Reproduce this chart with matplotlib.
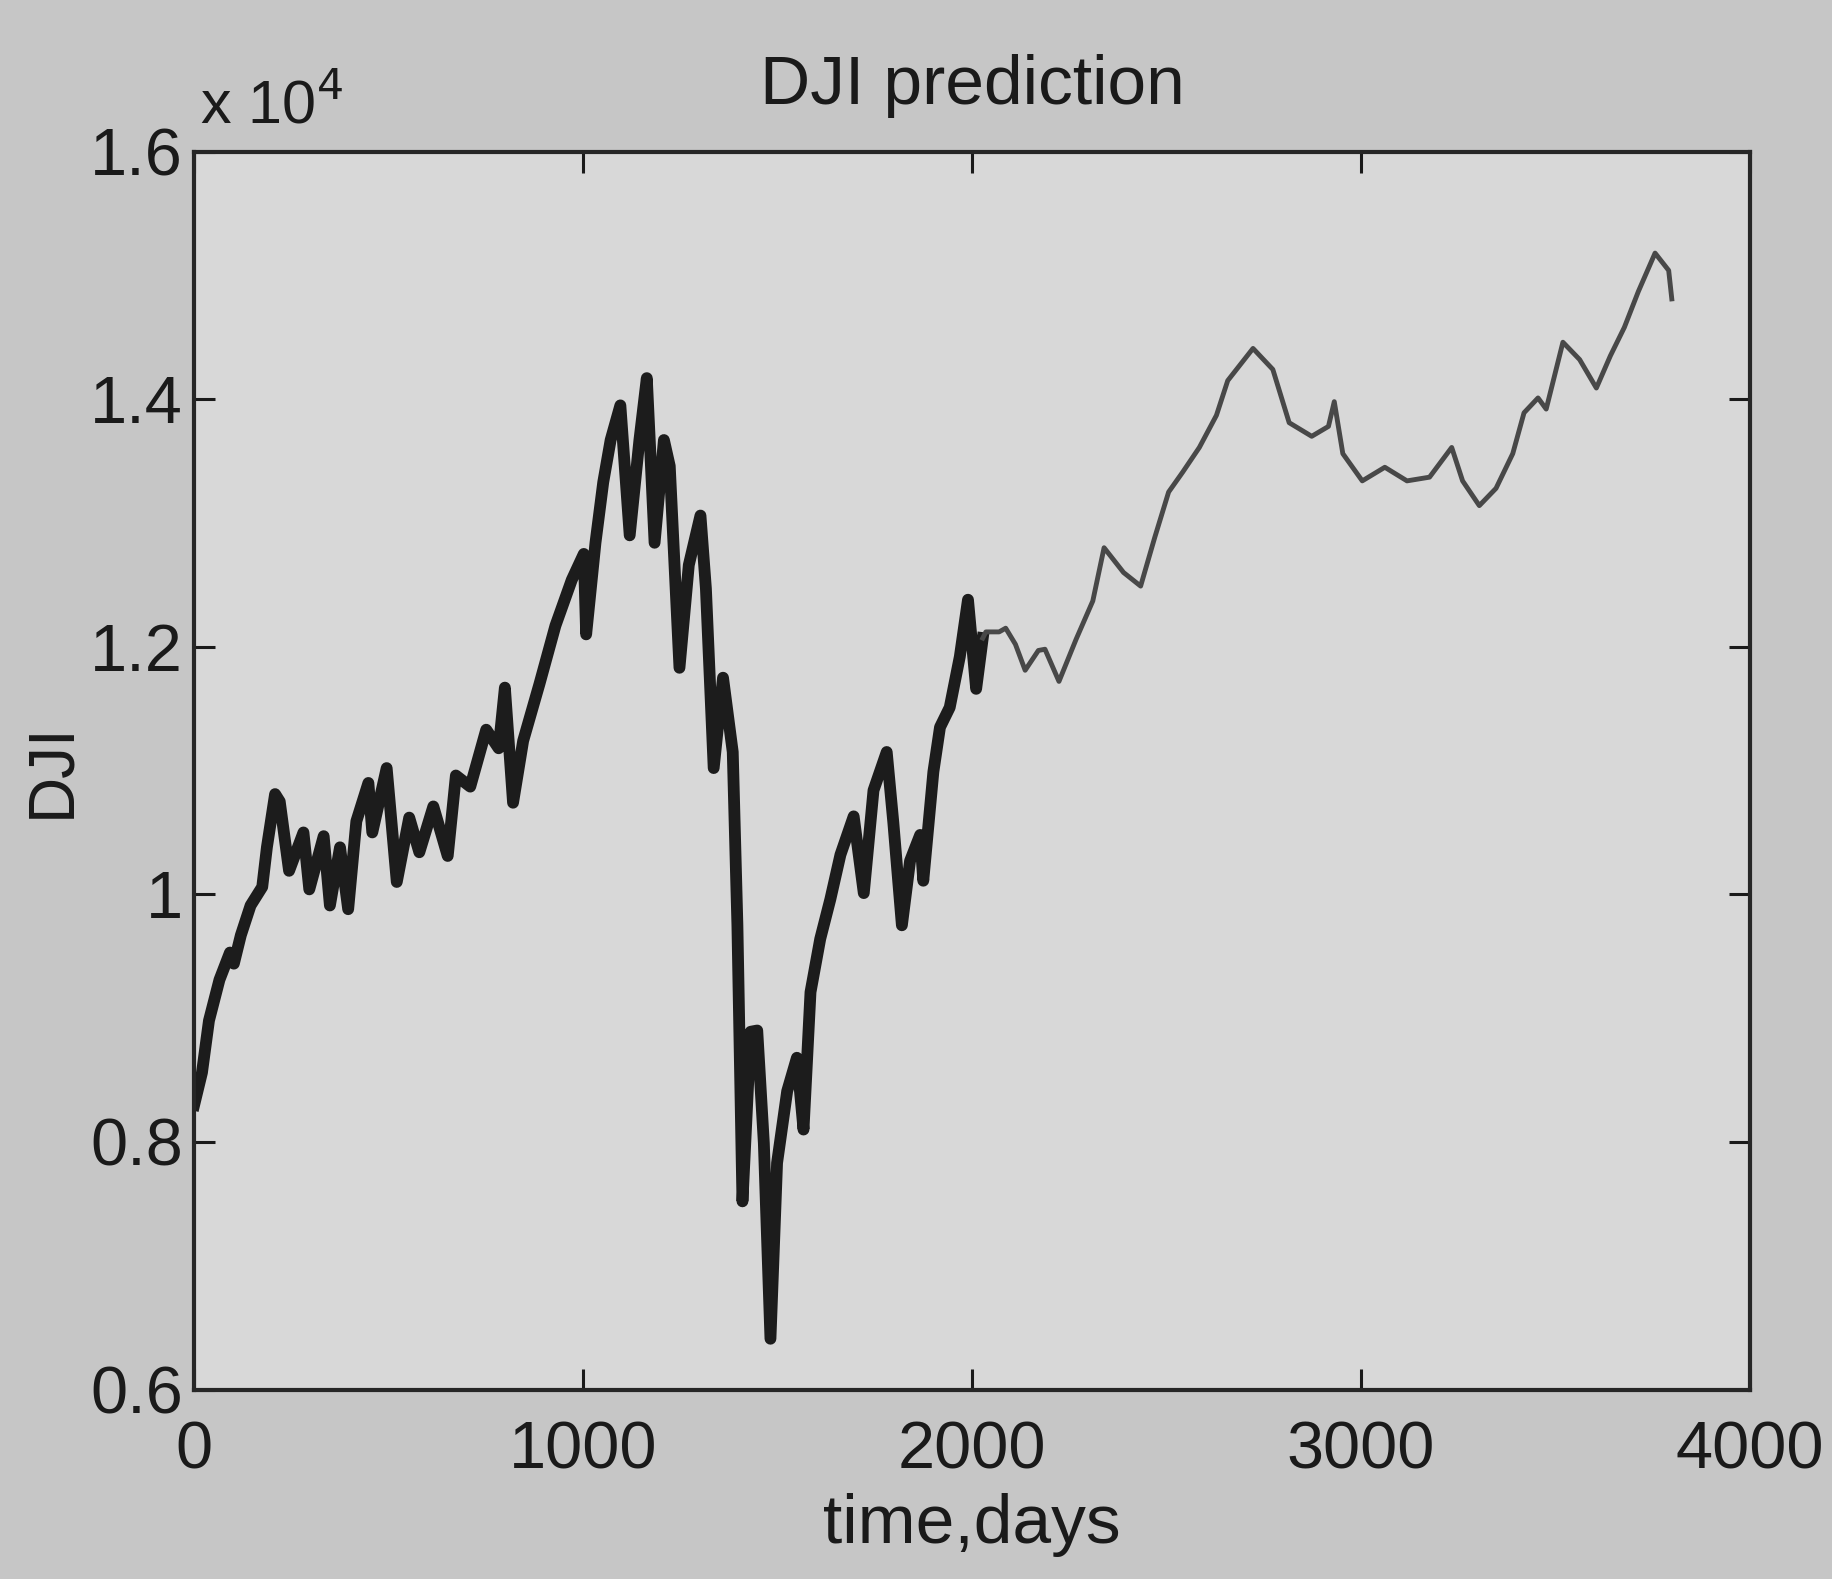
import matplotlib
matplotlib.use("Agg")
import matplotlib.pyplot as plt
from matplotlib.ticker import FuncFormatter

# ---- data (DJI in units of 1e4) ----
actual_days = [0, 20, 38, 65, 92, 102, 120, 145, 175, 187, 208, 220, 244, 281, 296, 333, 349,
               375, 396, 417, 448, 458, 495, 521, 553, 579, 615, 652, 673, 710, 751, 783,
               799, 820, 846, 888, 929, 971, 1002, 1008, 1032, 1052, 1071, 1096, 1120,
               1145, 1164, 1184, 1208, 1223, 1248, 1272, 1302, 1316, 1336, 1360, 1385,
               1397, 1410, 1431, 1448, 1465, 1482, 1499, 1525, 1550, 1567, 1585, 1610,
               1636, 1662, 1696, 1722, 1747, 1781, 1798, 1820, 1841, 1867, 1875, 1901,
               1918, 1943, 1969, 1990, 2011, 2028]
actual_dji = [0.83, 0.856, 0.898, 0.931, 0.953, 0.944, 0.967, 0.991, 1.006, 1.038, 1.081, 1.075,
              1.019, 1.050, 1.004, 1.047, 0.991, 1.038, 0.988, 1.059, 1.090, 1.050, 1.102,
              1.010, 1.062, 1.034, 1.071, 1.031, 1.096, 1.087, 1.133, 1.118, 1.167, 1.074,
              1.124, 1.170, 1.217, 1.254, 1.275, 1.210, 1.284, 1.333, 1.367, 1.395, 1.290,
              1.367, 1.417, 1.284, 1.367, 1.346, 1.183, 1.266, 1.306, 1.247, 1.102, 1.175,
              1.115, 0.975, 0.752, 0.889, 0.890, 0.799, 0.641, 0.783, 0.841, 0.868, 0.810,
              0.921, 0.964, 0.996, 1.032, 1.063, 1.001, 1.084, 1.115, 1.058, 0.975, 1.027,
              1.048, 1.011, 1.099, 1.135, 1.151, 1.192, 1.238, 1.166, 1.207]

pred_days = [2028, 2036, 2070, 2087, 2112, 2137, 2171, 2188, 2224, 2268, 2311, 2340, 2390,
             2434, 2470, 2506, 2542, 2585, 2629, 2658, 2723, 2774, 2816, 2874, 2917, 2932,
             2954, 3004, 3062, 3119, 3177, 3234, 3262, 3305, 3348, 3391, 3420, 3456, 3477,
             3520, 3563, 3606, 3642, 3678, 3714, 3757, 3792, 3800]
pred_dji = [1.207, 1.212, 1.212, 1.215, 1.202, 1.181, 1.197, 1.198, 1.172, 1.206, 1.237,
            1.280, 1.260, 1.249, 1.288, 1.325, 1.341, 1.361, 1.387, 1.415, 1.441, 1.424,
            1.381, 1.370, 1.378, 1.398, 1.356, 1.334, 1.345, 1.334, 1.337, 1.361, 1.334,
            1.314, 1.328, 1.356, 1.389, 1.401, 1.392, 1.446, 1.432, 1.409, 1.435, 1.458,
            1.487, 1.518, 1.504, 1.481]

x_ticks = [0, 1000, 2000, 3000, 4000]
y_ticks = [0.6, 0.8, 1.0, 1.2, 1.4, 1.6]

plt.rcParams['font.family'] = ['Liberation Sans', 'DejaVu Sans']

fig = plt.figure(figsize=(18.32, 15.79), dpi=100, facecolor='#c6c6c6')
ax = fig.add_axes([0.106, 0.120, 0.849, 0.784])
ax.set_facecolor('#d8d8d8')

ax.plot(actual_days, actual_dji, color='#1c1c1c', lw=8.5, solid_joinstyle='round')
ax.plot(pred_days, pred_dji, color='#484848', lw=3.5, solid_joinstyle='round')

ax.set_xlim(0, 4000)
ax.set_ylim(0.6, 1.6)
ax.set_xticks(x_ticks)
ax.set_yticks(y_ticks)
ax.yaxis.set_major_formatter(FuncFormatter(lambda v, p: f"{v:g}"))
ax.tick_params(direction='in', length=15, width=2.2, top=True, right=True,
               labelsize=48, colors='#1a1a1a')
ax.tick_params(axis='x', pad=22)
ax.tick_params(axis='y', pad=8)
for s in ax.spines.values():
    s.set_linewidth(3)
    s.set_color('#262626')

ax.set_title('DJI prediction', fontsize=50, color='#1a1a1a', pad=34)
ax.set_xlabel('time,days', fontsize=50, color='#1a1a1a', labelpad=8)
ax.set_ylabel('DJI', fontsize=46, color='#1a1a1a', labelpad=6)
ax.text(0.004, 1.012, r'x 10$^4$', transform=ax.transAxes, fontsize=44,
        color='#1a1a1a', ha='left', va='bottom')

fig.savefig('out.png', dpi=100, facecolor=fig.get_facecolor())
